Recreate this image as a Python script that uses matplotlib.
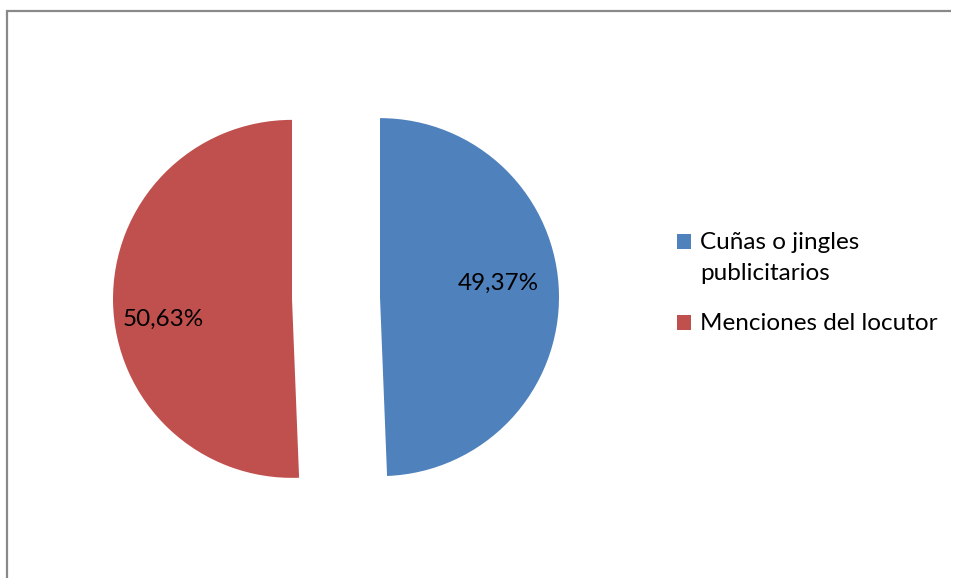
import math
import matplotlib.pyplot as plt
from matplotlib.patches import Rectangle

categories = ['Cuñas o jingles\npublicitarios', 'Menciones del locutor']
values = [49.37, 50.63]
colors = ['#4F81BD', '#C0504D']

W, H = 954, 578
plt.rcParams['font.family'] = ['Lato', 'DejaVu Sans']
fig = plt.figure(figsize=(W/100, H/100), dpi=100)

# axes in pixel units (y up)
ax = fig.add_axes([0, 0, 1, 1])

R = 179
wedges, texts, autotexts = ax.pie(
    values, colors=colors, startangle=90, counterclock=False,
    explode=[44, 44], center=(336, H - 298), radius=R,
    autopct=lambda p: f'{p:.2f}%'.replace('.', ','),
    textprops={'fontsize': 17.5, 'color': 'black'})

ax.set_xlim(0, W)
ax.set_ylim(0, H)
ax.set_aspect('equal')
ax.axis('off')

# put the labels where Excel put them
label_ang = [6.8, 188.9]
label_dist = [0.665, 0.73]
for w, t, a, d in zip(wedges, autotexts, label_ang, label_dist):
    cx, cy = w.center
    t.set_position((cx + d*R*math.cos(math.radians(a)),
                    cy + d*R*math.sin(math.radians(a))))

# legend, drawn by hand so the square sits on the first line
leg_y = [H - 249, H - 330]
for lab, c, y in zip(categories, colors, leg_y):
    ax.add_patch(Rectangle((677, y), 14, 15, facecolor=c, edgecolor='none'))
    for i, line in enumerate(lab.split('\n')):
        ax.text(700, y - 31*i, line, fontsize=17.5, va='baseline', ha='left')

# chart-area border (only left and top visible)
ax.plot([7.5, 7.5, W - 3], [0, H - 10.5, H - 10.5], color='#898989',
        linewidth=1.6, clip_on=False, solid_joinstyle='miter',
        solid_capstyle='butt')

fig.savefig('out.png', dpi=100, facecolor='white')
